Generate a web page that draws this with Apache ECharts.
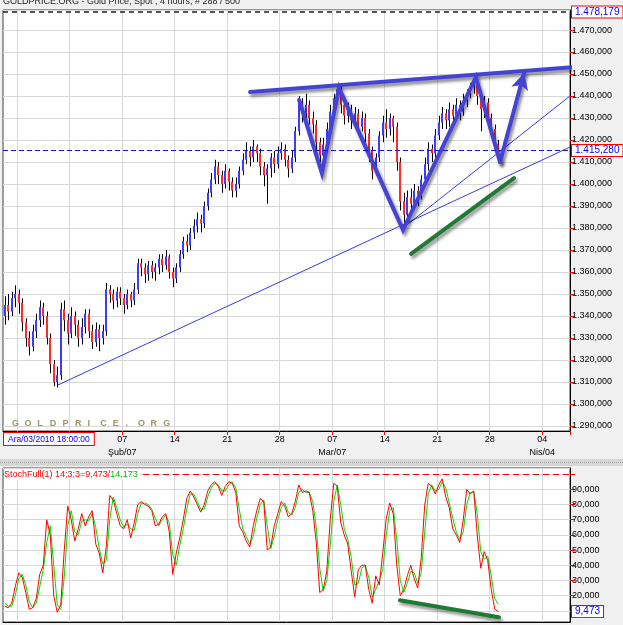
<!DOCTYPE html>
<html>
<head>
    <meta charset="utf-8">
    <title>Gold Price, Spot, 4 hours</title>
    <script src="https://cdn.jsdelivr.net/npm/echarts@6/dist/echarts.min.js"></script>
    <style>
        html, body { margin: 0; padding: 0; background: #f0f0f0; }
        #main { width: 623px; height: 625px; }
    </style>
</head>
<body>
<div id="main"></div>
<script type="text/javascript">
    // price bars (8 hour slots)
    var priceOpen = [1340,1345,1342,1348,1350,1346,1337,1330,1326,1333, 1338,1344,1340,1330,1318,1310,1313,1343,1338,1332,
        1340,1336,1330,1335,1341,1333,1328,1334,1330,1333, 1352,1350,1347,1351,1348,1345,1350,1347,1352,1364,
        1362,1359,1363,1360,1362,1366,1363,1367,1360,1357, 1362,1368,1374,1372,1378,1381,1384,1382,1390,1396,
        1402,1408,1404,1400,1406,1401,1397,1400,1406,1411, 1415,1412,1417,1414,1408,1404,1407,1412,1409,1414,
        1416,1411,1407,1412,1424,1437,1432,1436,1430,1427, 1419,1413,1418,1425,1433,1439,1443,1436,1431,1434,
        1429,1432,1426,1430,1423,1415,1406,1412,1422,1428, 1425,1430,1426,1410,1392,1386,1394,1391,1397,1395,
        1402,1409,1416,1414,1422,1428,1432,1429,1434,1431, 1436,1433,1438,1441,1444,1447,1440,1434,1437,1430,
        1425,1418];
    var priceClose = [1345,1342,1348,1350,1346,1337,1330,1326,1333,1338, 1344,1340,1330,1318,1310,1313,1343,1338,1332,1340,
        1336,1330,1335,1341,1333,1328,1334,1330,1333,1352, 1350,1347,1351,1348,1345,1350,1347,1352,1364,1362,
        1359,1363,1360,1362,1366,1363,1367,1360,1357,1362, 1368,1374,1372,1378,1381,1384,1382,1390,1396,1402,
        1408,1404,1400,1406,1401,1397,1400,1406,1411,1415, 1412,1417,1414,1408,1404,1407,1412,1409,1414,1416,
        1411,1407,1412,1424,1437,1432,1436,1430,1427,1419, 1413,1418,1425,1433,1439,1443,1436,1431,1434,1429,
        1432,1426,1430,1423,1415,1406,1412,1422,1428,1425, 1430,1426,1410,1392,1386,1394,1391,1397,1395,1402,
        1409,1416,1414,1422,1428,1432,1429,1434,1431,1436, 1433,1438,1441,1444,1447,1440,1434,1437,1430,1425,
        1418,1415.28];
    var priceLow = [1336,1338,1340,1344,1341,1333,1326,1322,1324,1330, 1335,1336,1327,1314,1308,1307.5,1311,1333,1327,1330,
        1331,1326,1327,1332,1330,1325,1326,1324,1327,1331, 1346,1343,1344,1345,1341,1343,1344,1345,1350,1358,
        1355,1356,1357,1356,1359,1360,1361,1357,1353,1355, 1360,1366,1369,1370,1375,1378,1378,1380,1388,1394,
        1400,1400,1396,1398,1397,1394,1394,1398,1404,1409, 1408,1410,1410,1404,1399,1391,1403,1405,1407,1411,
        1408,1403,1405,1410,1422,1428,1429,1427,1423,1415, 1410,1411,1416,1423,1431,1436,1432,1427,1428,1425,
        1426,1423,1424,1419,1410,1402,1404,1410,1419,1421, 1422,1419,1406,1388,1380.5,1383,1387,1389,1390,1393,
        1400,1406,1410,1412,1420,1425,1425,1426,1427,1429, 1429,1431,1435,1439,1441,1436,1424,1430,1426,1421,
        1415,1413];
    var priceHigh = [1349,1350,1351,1354,1352,1348,1339,1333,1336,1341, 1347,1346,1342,1332,1320,1317,1346,1347,1341,1344,
        1342,1338,1339,1343,1343,1336,1337,1336,1336,1355, 1354,1352,1353,1353,1350,1352,1351,1355,1366,1366,
        1364,1365,1365,1364,1368,1368,1370,1368,1362,1364, 1370,1376,1377,1380,1384,1387,1386,1392,1398,1405,
        1411,1410,1406,1409,1407,1403,1403,1408,1414,1419, 1417,1420,1418,1416,1410,1409,1414,1415,1417,1419,
        1418,1413,1415,1426,1440,1439,1441,1438,1433,1429, 1421,1421,1428,1436,1441,1445,1444,1438,1437,1436,
        1435,1434,1433,1432,1425,1417,1414,1424,1431,1434, 1432,1431,1428,1412,1396,1397,1398,1400,1399,1404,
        1412,1419,1418,1425,1431,1435,1434,1437,1436,1439, 1438,1441,1443,1446,1448.5,1448,1442,1440,1439,1432,
        1427,1420];

    // StochFull 14;3;3
    var stochK = [13,12,15,26,35,32,22,11,12,18, 34,40,70,60,20,9,14,50,79,70,
        56,64,74,66,72,76,54,48,35,52, 86,83,74,66,64,70,58,68,80,82,
        80,79,76,66,67,72,74,62,34,48, 58,70,84,89,85,80,75,80,89,93,
        95,92,86,92,95,94,88,66,62,56, 52,66,76,84,82,50,52,66,74,82,
        79,72,74,82,93,88,89,88,76,55, 22,24,36,70,94,92,68,60,54,36,
        19,37,40,40,24,15,33,27,48,71, 81,74,40,20,24,33,40,31,25,45,
        80,94,92,87,93,97,85,78,64,60, 55,70,90,87,89,60,38,49,43,24,
        11,9.473];
    var stochD = [15,13,13,20,31,34,27,16,12,15, 26,37,55,66,40,14,11,32,66,76,
        62,60,69,70,69,74,65,51,41,43, 70,85,78,70,65,67,64,63,74,81,
        81,80,77,71,66,70,73,68,47,40, 53,64,77,87,87,82,77,77,85,91,
        94,93,89,89,93,95,91,77,64,59, 54,59,71,80,83,66,51,59,70,78,
        81,75,73,78,88,90,88,88,82,65, 38,23,30,53,82,93,80,64,57,45,
        27,28,38,40,32,19,24,30,37,60, 76,78,57,30,22,28,36,35,28,35,
        62,87,93,89,90,95,91,81,71,62, 57,62,80,88,88,74,49,44,46,33,
        18,14.173];

    var slotCount = 162;
    var weekSlots = [4, 19, 34, 49, 64, 79, 94, 109, 124, 139, 154];
    var weekLabels = ['', '', '07\nŞub/07', '14', '21', '28', '07\nMar/07', '14', '21', '28', '04\nNis/04'];
    var topLevel = 1478.179;
    var lastPrice = 1415.28;
    var lastK = 9.473, lastD = 14.173;

    // drawn annotations [slot, value]
    var resistance = [[70.1, 1441.8], [173.8, 1454.5]];
    var wPattern = [[84.1, 1438.2], [90.6, 1405.0], [95.5, 1443.6], [113.8, 1379.1], [134.6, 1448.6], [141.5, 1410.0]];
    var arrowTip = [148.4, 1450.6];
    var trendLong = [[15.2, 1308.6], [161.5, 1416.8]];
    var trendShort = [[113.8, 1380.0], [161.5, 1440.0]];
    var greenPrice = [[116.1, 1368.2], [145.5, 1402.7]];
    var greenStoch = [[112.9, 16.9], [141.2, 5.7]];

    var FONT = '"Liberation Sans", Arial, sans-serif';

    function trFormat(v) {
        var parts = v.toFixed(3).split('.');
        return parts[0].replace(/\B(?=(\d{3})+(?!\d))/g, '.') + ',' + parts[1];
    }

    var categories = [];
    for (var i = 0; i < slotCount; i++) categories.push(String(i));

    var bars = [];
    for (var j = 0; j < priceOpen.length; j++) {
        bars.push([j, priceOpen[j], priceClose[j], priceLow[j], priceHigh[j]]);
    }
    var kData = stochK.map(function (v, i) { return [i, v]; });
    var dData = stochD.map(function (v, i) { return [i, v]; });

    function isWeek(index) { return weekSlots.indexOf(index) >= 0; }

    function renderBar(params, api) {
        var s = api.value(0);
        var o = api.value(1), c = api.value(2), lo = api.value(3), hi = api.value(4);
        var pHi = api.coord([s, hi]), pLo = api.coord([s, lo]);
        var pO = api.coord([s, o]), pC = api.coord([s, c]);
        var x = Math.round(pHi[0]);
        var y1 = Math.min(pO[1], pC[1]), y2 = Math.max(pO[1], pC[1]);
        return {
            type: 'group',
            children: [
                { type: 'rect', shape: { x: x, y: pHi[1], width: 1, height: pLo[1] - pHi[1] }, style: { fill: '#000' } },
                { type: 'rect', shape: { x: x - 1, y: y1, width: 2, height: Math.max(1, y2 - y1) },
                  style: { fill: c >= o ? '#3c3cff' : '#ff2a2a' } }
            ]
        };
    }

    var boxLabel = function (text) {
        return {
            show: true, position: 'end', distance: 2, formatter: text,
            color: '#0000ff', backgroundColor: '#fff', borderColor: '#ff0000', borderWidth: 1,
            padding: [1, 3, 0, 3], fontSize: 10, fontFamily: FONT
        };
    };

    var thick = {
        color: '#4543d6', width: 4, type: 'solid', join: 'miter', cap: 'round',
        shadowColor: 'rgba(0,0,0,0.45)', shadowBlur: 3, shadowOffsetX: 2, shadowOffsetY: 3
    };
    var greenThick = {
        color: '#1e7b34', width: 4, type: 'solid', cap: 'round',
        shadowColor: 'rgba(0,0,0,0.4)', shadowBlur: 3, shadowOffsetX: 2, shadowOffsetY: 3
    };

    var catAxis = function (grid, showLabel) {
        return {
            type: 'category', gridIndex: grid, data: categories, boundaryGap: true,
            axisLine: { show: true, onZero: false, lineStyle: { color: '#000' } },
            axisTick: { show: showLabel, interval: isWeek, length: 4, lineStyle: { color: '#ff0000' } },
            axisLabel: {
                show: showLabel, interval: isWeek, margin: 2, fontSize: 9, lineHeight: 13,
                fontFamily: FONT, color: '#000', padding: [0, 3, 0, 0],
                formatter: function (v, idx) {
                    var k = weekSlots.indexOf(idx);
                    return k >= 0 ? weekLabels[k] : '';
                }
            },
            splitLine: { show: true, interval: isWeek, lineStyle: { color: '#d8d8d8' } }
        };
    };

    var valAxis = function (grid, min, max, labelFn) {
        return {
            type: 'value', gridIndex: grid, position: 'right', min: min, max: max,
            splitNumber: Math.round((max - min) / 10), minInterval: 10, maxInterval: 10,
            axisLine: { show: true, onZero: false, lineStyle: { color: '#000' } },
            axisTick: { show: true, length: 5, lineStyle: { color: '#ff0000' } },
            axisLabel: { margin: 2, fontSize: 9, fontFamily: FONT, color: '#000', showMinLabel: false, showMaxLabel: false, formatter: labelFn },
            splitLine: { lineStyle: { color: '#d8d8d8' } }
        };
    };

    var option = {
        backgroundColor: '#f0f0f0',
        animation: false,
        grid: [
            { left: 3, top: 10, width: 567, height: 421, show: true, backgroundColor: '#fff', borderColor: '#444', borderWidth: 1 },
            { left: 3, top: 468, width: 567, height: 154, show: true, backgroundColor: '#fff', borderColor: '#444', borderWidth: 1 }
        ],
        xAxis: [
            catAxis(0, true),
            catAxis(1, false),
            { type: 'value', gridIndex: 0, min: -0.5, max: slotCount - 0.5, show: false },
            { type: 'value', gridIndex: 1, min: -0.5, max: slotCount - 0.5, show: false }
        ],
        yAxis: [
            valAxis(0, 1287.7, 1479.1, trFormat),
            valAxis(1, 2.6, 104.1, function (v) { return (v < 15 || v > 95) ? '' : trFormat(v); })
        ],
        series: [
            {
                name: 'Gold', type: 'custom', xAxisIndex: 0, yAxisIndex: 0, clip: true,
                renderItem: renderBar, encode: { x: 0, y: [1, 2, 3, 4] }, data: bars
            },
            {
                name: 'trendLong', type: 'line', xAxisIndex: 2, yAxisIndex: 0, symbol: 'none', silent: true,
                lineStyle: { color: '#3838f0', width: 1 }, data: trendLong,
                markLine: {
                    silent: true, symbol: 'none',
                    data: [
                        { yAxis: topLevel, lineStyle: { color: '#222', width: 1.5, type: [5, 4] }, label: boxLabel(trFormat(topLevel)) },
                        { yAxis: lastPrice, lineStyle: { color: '#1010e8', width: 1, type: [5, 3] }, label: boxLabel(trFormat(lastPrice)) }
                    ]
                }
            },
            {
                name: 'trendShort', type: 'line', xAxisIndex: 2, yAxisIndex: 0, symbol: 'none', silent: true,
                lineStyle: { color: '#3838f0', width: 1 }, data: trendShort
            },
            {
                name: 'resistance', type: 'line', xAxisIndex: 2, yAxisIndex: 0, symbol: 'none', silent: true, clip: false,
                lineStyle: thick, data: resistance
            },
            {
                name: 'pattern', type: 'line', xAxisIndex: 2, yAxisIndex: 0, symbol: 'none', silent: true, clip: false,
                lineStyle: thick, data: wPattern,
                markLine: {
                    silent: true, symbol: ['none', 'arrow'], symbolSize: [13, 17],
                    itemStyle: { color: '#4543d6' },
                    lineStyle: thick, label: { show: false },
                    data: [[{ coord: wPattern[wPattern.length - 1] }, { coord: arrowTip }]]
                }
            },
            {
                name: 'greenPrice', type: 'line', xAxisIndex: 2, yAxisIndex: 0, symbol: 'none', silent: true,
                lineStyle: greenThick, data: greenPrice
            },
            {
                name: '%D', type: 'line', xAxisIndex: 1, yAxisIndex: 1, symbol: 'none', silent: true,
                lineStyle: { color: '#00e000', width: 1 }, data: dData
            },
            {
                name: '%K', type: 'line', xAxisIndex: 1, yAxisIndex: 1, symbol: 'none', silent: true,
                lineStyle: { color: '#ff0000', width: 1 }, data: kData,
                markLine: {
                    silent: true, symbol: 'none',
                    data: [
                        { yAxis: 100, lineStyle: { color: '#ff0000', width: 1, type: [6, 4] }, label: { show: false } },
                        { yAxis: lastK, lineStyle: { color: 'transparent', width: 0 }, label: boxLabel(trFormat(lastK)) }
                    ]
                }
            },
            {
                name: 'greenStoch', type: 'line', xAxisIndex: 3, yAxisIndex: 1, symbol: 'none', silent: true,
                lineStyle: greenThick, data: greenStoch
            }
        ],
        graphic: [
            { type: 'text', left: 3, top: -3, style: { text: 'GOLDPRICE.ORG - Gold Price, Spot , 4 hours, # 288 / 500', fill: '#222', font: '9px ' + FONT } },
            {
                type: 'text', left: 3, top: 432, z: 100,
                style: { text: 'Ara/03/2010 18:00:00', fill: '#0000ff', font: '8.5px ' + FONT, backgroundColor: '#fff', borderColor: '#ff0000', borderWidth: 1, padding: [2, 4, 1, 4] }
            },
            { type: 'rect', left: 0, top: 459, z: 1, shape: { width: 623, height: 7 }, style: { fill: '#d6d6d6' } },
            { type: 'line', z: 2, shape: { x1: 0, y1: 462.5, x2: 623, y2: 462.5 }, style: { stroke: '#a9a9a9', lineWidth: 1, lineDash: [1, 1] } },
            {
                type: 'text', left: 4, top: 469, z: 100,
                style: {
                    text: '{r|StochFull(1) 14;3;3=' + trFormat(lastK) + '/}{g|' + trFormat(lastD) + '}',
                    backgroundColor: '#fff', padding: [1, 2, 1, 0],
                    rich: { r: { fill: '#ff0000', font: '9px ' + FONT }, g: { fill: '#00c000', font: '9px ' + FONT } }
                }
            }
        ]
    };

    // watermark letters along the bottom of the price pane
    'GOLDPRICE.ORG'.split('').forEach(function (ch, k) {
        option.graphic.push({
            type: 'text', left: 12 + 12.6 * k, top: 419, z: 50,
            style: { text: ch, fill: '#9d9466', font: 'bold 9px ' + FONT }
        });
    });

    var myChart = echarts.init(document.getElementById('main'));
    myChart.setOption(option);
</script>
</body>
</html>
